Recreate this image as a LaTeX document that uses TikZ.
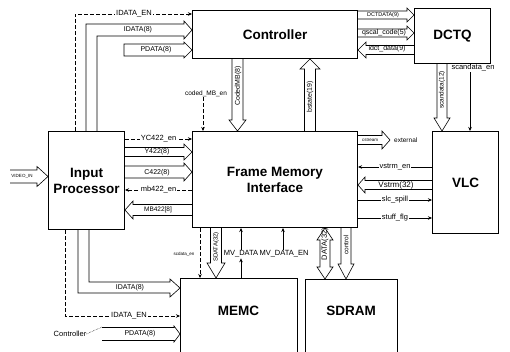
\documentclass[tikz,border=0pt]{standalone}
\usepackage{fontspec}
\setmainfont{Liberation Sans}
\usetikzlibrary{arrows.meta,calc}
\newcommand\busE[5]{\draw[bus] let \p1=(#1), \p2=(#2) in (\x1,\y1+#3pt) -- (\x2-#5pt,\y1+#3pt) -- (\x2-#5pt,\y1+#4pt) -- (\x2,\y1) -- (\x2-#5pt,\y1-#4pt) -- (\x2-#5pt,\y1-#3pt) -- (\x1,\y1-#3pt);}
\newcommand\busW[5]{\draw[bus] let \p1=(#1), \p2=(#2) in (\x1,\y1+#3pt) -- (\x2+#5pt,\y1+#3pt) -- (\x2+#5pt,\y1+#4pt) -- (\x2,\y1) -- (\x2+#5pt,\y1-#4pt) -- (\x2+#5pt,\y1-#3pt) -- (\x1,\y1-#3pt);}
\newcommand\busS[5]{\draw[bus] let \p1=(#1), \p2=(#2) in (\x1-#3pt,\y1) -- (\x1-#3pt,\y2+#5pt) -- (\x1-#4pt,\y2+#5pt) -- (\x1,\y2) -- (\x1+#4pt,\y2+#5pt) -- (\x1+#3pt,\y2+#5pt) -- (\x1+#3pt,\y1);}
\newcommand\busN[5]{\draw[bus] let \p1=(#1), \p2=(#2) in (\x1-#3pt,\y1) -- (\x1-#3pt,\y2-#5pt) -- (\x1-#4pt,\y2-#5pt) -- (\x1,\y2) -- (\x1+#4pt,\y2-#5pt) -- (\x1+#3pt,\y2-#5pt) -- (\x1+#3pt,\y1);}
\newcommand\busNS[5]{\draw[bus] let \p1=(#1), \p2=(#2) in (\x1,\y1) -- (\x1-#4pt,\y1-#5pt) -- (\x1-#3pt,\y1-#5pt) -- (\x1-#3pt,\y2+#5pt) -- (\x1-#4pt,\y2+#5pt) -- (\x1,\y2) -- (\x1+#4pt,\y2+#5pt) -- (\x1+#3pt,\y2+#5pt) -- (\x1+#3pt,\y1-#5pt) -- (\x1+#4pt,\y1-#5pt) -- cycle;}
\tikzset{
  blk/.style={draw, line width=1pt, font=\fontsize{13.5}{16}\selectfont\bfseries, align=center, inner sep=0pt, anchor=north west},
  blktxt/.style={font=\fontsize{13.5}{16}\selectfont\bfseries, inner sep=0pt},
  sig/.style={line width=0.6pt, -{Stealth[length=4pt,width=3.5pt]}},
  en/.style={sig, dash pattern=on 4pt off 2pt},
  bus/.style={line width=0.6pt, line join=miter},
  lbl/.style={font=\fontsize{7.5}{8}\selectfont, fill=white, inner sep=0.8pt},
  buslbl/.style={font=\fontsize{7}{8}\selectfont, inner sep=0pt},
  tiny/.style={font=\fontsize{4.5}{5}\selectfont, inner sep=0.5pt},
}
\begin{document}
\begin{tikzpicture}[x=1pt,y=-1pt]
\useasboundingbox (0,0) rectangle (510,352);
\clip (0,0) rectangle (510,352);
% blocks
\node[blk, minimum width=165pt, minimum height=48pt] (ctrl) at (192,10) {Controller};
\node[blk, minimum width=76pt, minimum height=55pt] (dctq) at (414,8) {DCTQ};
\node[blk, minimum width=76pt, minimum height=98pt] (ip) at (48,131) {Input\\Processor};
\node[blk, minimum width=165pt, minimum height=96pt] (fmi) at (192,131) {Frame Memory\\Interface};
\node[blk, minimum width=66pt, minimum height=102pt] (vlc) at (432,131) {VLC};
\node[blk, minimum width=117pt, minimum height=90pt] (memc) at (180,278) {};
\node[blktxt] (memct) at (238.5,311) {MEMC};
\node[blk, minimum width=92pt, minimum height=90pt] (sdram) at (305,279) {};
\node[blktxt] (sdramt) at (351,311) {SDRAM};

% IP -> Controller
\draw[en] (ip.north -| 75,0) |- (ctrl.west |- 0,14);
\node[lbl] (l1) at (134,14) {IDATA\_EN};
\draw[bus] (ip.north -| 86,0) -- (86,24) -- (184,24) -- (184,21) -- (ctrl.west |- 0,30) -- (184,39) -- (184,36) -- (97,36) -- (ip.north -| 97,0);
\node[buslbl] (l2) at (138,30) {IDATA(8)};
\draw[bus] (124,44) -- (184,44) -- (184,42) -- (ctrl.west |- 0,50) -- (184,58) -- (184,56) -- (124,56) -- cycle;
\node[buslbl] (l3) at (156,50) {PDATA(8)};

% Controller <-> DCTQ
\busE{ctrl.east |- 0,15}{dctq.west |- 0,15}{4}{7}{7}
\node[buslbl, font=\fontsize{5.5}{6}\selectfont] (l4) at (383,15) {DCTDATA(9)};
\busE{ctrl.east |- 0,33}{dctq.west |- 0,33}{4}{7}{7}
\node[buslbl] (l5) at (384,33) {qscal\_code(5)};
\busW{dctq.west |- 0,50}{ctrl.east |- 0,50}{4.5}{8}{8}
\node[buslbl] (l6) at (387,49) {idct\_data(9)};

% Controller <-> FMI
\busS{ctrl.south -| 237.5,0}{fmi.north -| 237.5,0}{5.5}{8.5}{11}
\node[buslbl, rotate=90] (l7) at (238,86) {CodedMB(8)};
\node[buslbl, font=\fontsize{6.5}{7}\selectfont] (l8) at (206,94) {coded\_MB\_en};
\draw[en] (l8.south -| 203,0) -- (fmi.north -| 203,0);
\busN{fmi.north -| 310,0}{ctrl.south -| 310,0}{5.5}{10}{10}
\node[buslbl, rotate=90] (l9) at (310,97) {bstate(19)};

% DCTQ -> VLC
\busS{dctq.south -| 442,0}{vlc.north -| 442,0}{5}{8}{13}
\node[buslbl, rotate=90, font=\fontsize{6.5}{7}\selectfont] (l10) at (442,90) {scandata(12)};
\node[lbl] (l11) at (473,68) {scandata\_en};
\draw[sig] (l11.south -| 470,0) -- (vlc.north -| 470,0);
\draw[line width=0.6pt] (dctq.south -| 470,0) -- (l11.north -| 470,0);

% VIDEO_IN
\busE{10,176.5}{ip.west |- 0,176.5}{6.5}{10}{11}
\node[tiny] (l12) at (22,176.5) {VIDEO\_IN};

% IP <-> FMI
\draw[en] (ip.east |- 0,139) -- (fmi.west |- 0,139) node[lbl, midway] (l13) {YC422\_en};
\busE{ip.east |- 0,152}{fmi.west |- 0,152}{4.5}{8}{8}
\node[buslbl] (l14) at (157,152) {Y422(8)};
\busE{ip.east |- 0,172}{fmi.west |- 0,172}{6}{9}{8}
\node[buslbl] (l15) at (157,172.5) {C422(8)};
\draw[en] (fmi.west |- 0,190) -- (ip.east |- 0,190) node[lbl, midway] (l16) {mb422\_en};
\busW{fmi.west |- 0,210}{ip.east |- 0,210}{5.5}{9}{8}
\node[buslbl, font=\fontsize{6.5}{7}\selectfont] (l17) at (158,209.5) {MB422[8]};

% FMI -> external
\busE{fmi.east |- 0,140}{390,140}{4.5}{9}{8}
\node[tiny] (l18) at (370,140) {cstream};
\node[buslbl, font=\fontsize{6.5}{7}\selectfont, anchor=west] (l19) at (394,140.5) {external};

% FMI <-> VLC
\draw[sig] (vlc.west |- 0,167) -- (fmi.east |- 0,167) node[lbl, pos=0.5] (l20) {vstrm\_en};
\busW{vlc.west |- 0,185}{fmi.east |- 0,185}{4.5}{8}{7}
\node[buslbl, font=\fontsize{8}{9}\selectfont] (l21) at (396,185.5) {Vstrm(32)};
\draw[sig] (fmi.east |- 0,200) -- (vlc.west |- 0,200) node[lbl, pos=0.5] (l22) {slc\_spill};
\draw[sig] (fmi.east |- 0,218) -- (vlc.west |- 0,218) node[lbl, pos=0.5] (l23) {stuff\_flg};

% FMI <-> MEMC / SDRAM
\node[tiny] (l24) at (184,254) {scdata\_en};
\draw[en] (fmi.south -| 200,0) -- (memc.north -| 200,0);
\busS{fmi.south -| 216,0}{memc.north -| 216,0}{5.5}{9}{15}
\node[buslbl, rotate=90, font=\fontsize{6}{7}\selectfont] (l25) at (216,247) {SDATA(32)};
\node[lbl] (l26) at (241,254) {MV\_DATA};
\draw[sig] (memc.north -| 241,0) -- (l26.south -| 241,0);
\draw[sig] (l26.north -| 241,0) -- (fmi.south -| 241,0);
\node[lbl] (l27) at (284,254) {MV\_DATA\_EN};
\draw[sig] (l27.north -| 283,0) -- (fmi.south -| 283,0);
\busNS{fmi.south -| 325,0}{sdram.north -| 325,0}{5}{8}{12}
\node[buslbl, rotate=90, font=\fontsize{7.5}{8}\selectfont] (l28) at (325,244) {DATA(32)};
\busS{fmi.south -| 346,0}{sdram.north -| 346,0}{5}{8}{15}
\node[buslbl, rotate=90, font=\fontsize{6.5}{7}\selectfont] (l29) at (346,245) {control};

% IP -> MEMC
\draw[bus] (ip.south -| 78,0) -- (78,293) -- (170,293) -- (170,297) -- (memc.west |- 0,288) -- (170,279) -- (170,282) -- (89,282) -- (ip.south -| 89,0);
\node[buslbl] (l30) at (130,288) {IDATA(8)};
\draw[en] (ip.south -| 65,0) |- (memc.west |- 0,316);
\node[lbl] (l31) at (129,316) {IDATA\_EN};
\busE{102,334}{memc.west |- 0,334}{6.5}{8}{6}
\node[buslbl] (l32) at (140,334) {PDATA(8)};
\node[buslbl, font=\fontsize{7.5}{8}\selectfont] (l33) at (70,334) {Controller};
\draw[densely dotted, line width=0.5pt] (l33.east) -- (102,327);
\end{tikzpicture}
\end{document}
